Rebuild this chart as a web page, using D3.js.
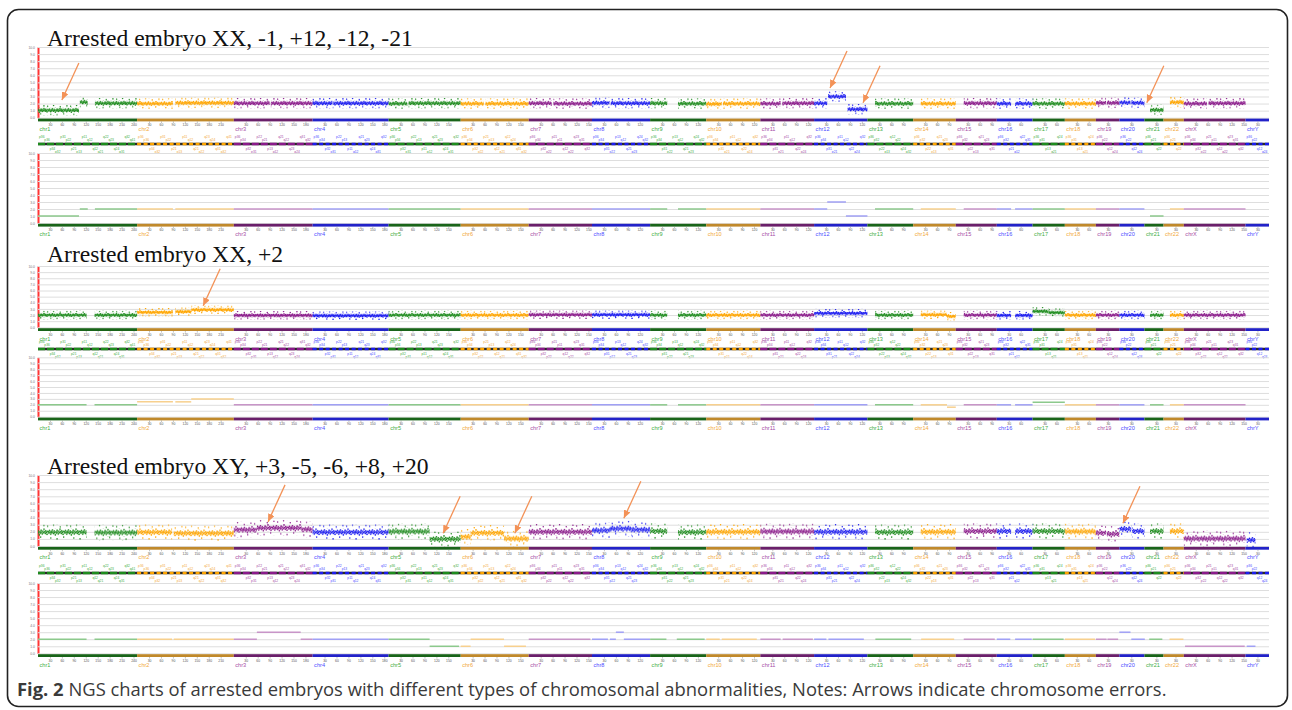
<!DOCTYPE html>
<html>
<head>
<meta charset="utf-8">
<script src="https://cdn.jsdelivr.net/npm/d3@7"></script>
<style>
    body{margin:0;background:#fff;}
    svg{display:block;font-family:"Liberation Sans",Arial,sans-serif;}
    .title{font-family:"Liberation Serif","Times New Roman",serif;font-size:23.6px;fill:#111;}
    .caption{font-family:"Open Sans",sans-serif;font-size:18.4px;fill:#3a3a3a;}
    .cn-axis .tick line{stroke:#dedede;stroke-width:1;}
    .cn-axis .tick text{font-size:3.4px;fill:#777;}
    .cn-axis path.domain{stroke:#ff3434;stroke-width:2;}
    .pos-axis path.domain{display:none;}
    .pos-axis .tick line{stroke:#888;stroke-width:0.5;}
    .pos-axis .tick text{font-size:3.4px;fill:#555;}
    .chr-label{font-size:5.6px;}
    .band-label{font-size:3.3px;}
</style>
</head>
<body>
<svg id="fig" width="1292" height="710"></svg>
<script>
// ---- data ----
const CHROMS = ["chr1","chr2","chr3","chr4","chr5","chr6","chr7","chr8","chr9","chr10","chr11","chr12",
    "chr13","chr14","chr15","chr16","chr17","chr18","chr19","chr20","chr21","chr22","chrX","chrY"];
const CHROM_MB = [249,243,198,191,181,171,159,146,141,136,135,134,115,107,103,90,81,78,59,63,48,51,155,59];
const CN_TICKS = [0,1,2,3,4,5,6,7,8,9,10];
const POS_TICKS = [30,60,90,120,150,180,210,240];
const BAND_NAMES = ["p36","p34","p32","p31","p22","p21","p13","p11","q12","q21","q22","q23","q24","q31","q32","q41"];
const TITLES = [
    "Arrested embryo XX, -1, +12, -12, -21",
    "Arrested embryo XX, +2",
    "Arrested embryo XY, +3, -5, -6, +8, +20"
];

// scatter bins: [chrom, startMb, endMb, level]
const BINS_1 = [
    ["chr1",0,103,1.05],["chr1",105,125,2.2],["chr1",143,249,2.05],
    ["chr2",0,90,2.0],["chr2",96,243,2.1],["chr3",0,90,2.05],["chr3",93,198,2.05],
    ["chr4",0,50,2.05],["chr4",52,191,2.05],["chr5",0,47,2.0],["chr5",50,181,2.05],
    ["chr6",0,58,2.0],["chr6",62,171,2.0],["chr7",0,58,2.05],["chr7",62,159,2.0],
    ["chr8",0,44,2.1],["chr8",47,146,2.05],["chr9",0,43,2.05],["chr9",70,141,2.0],
    ["chr10",0,39,1.95],["chr10",42,136,2.0],["chr11",0,51,2.0],["chr11",55,135,2.05],
    ["chr12",0,33,2.05],["chr12",35,80,3.0],["chr12",84,134,1.2],
    ["chr13",19,115,2.0],["chr14",19,107,2.0],["chr15",20,103,2.05],
    ["chr16",0,36,2.0],["chr16",46,90,2.0],["chr17",0,81,2.0],["chr18",0,78,2.0],
    ["chr19",0,26,2.1],["chr19",28,59,2.1],["chr20",0,28,2.15],["chr20",30,63,2.1],
    ["chr21",14,48,1.1],["chr22",16,51,2.2],["chrX",0,58,2.0],["chrX",62,155,2.05]
];
const BINS_2 = [
    ["chr1",0,122,2.0],["chr1",142,249,2.0],
    ["chr2",0,90,2.45],["chr2",96,136,2.55],["chr2",136,243,2.85],
    ["chr3",0,198,1.95],["chr4",0,191,1.9],["chr5",0,181,2.0],["chr6",0,171,2.0],
    ["chr7",0,159,2.05],["chr8",0,146,2.05],["chr9",0,43,2.0],["chr9",70,141,2.0],
    ["chr10",0,136,2.0],["chr11",0,135,2.0],["chr12",0,134,2.3],["chr13",19,115,2.0],
    ["chr14",19,85,2.05],["chr14",85,107,1.8],["chr15",20,103,2.0],
    ["chr16",0,36,1.95],["chr16",46,90,1.95],["chr17",0,40,2.6],["chr17",40,81,2.4],
    ["chr18",0,78,2.0],["chr19",0,59,2.0],["chr20",0,63,2.0],["chr21",14,48,2.0],
    ["chr22",16,51,2.0],["chrX",0,155,2.0]
];
const BINS_3 = [
    ["chr1",0,122,1.95],["chr1",142,249,1.9],["chr2",0,88,1.95],["chr2",92,243,1.8],
    ["chr3",0,58,2.3],["chr3",58,170,2.55],["chr3",170,198,2.35],["chr4",0,191,1.95],
    ["chr5",0,103,2.05],["chr5",103,181,1.0],
    ["chr6",0,25,1.3],["chr6",25,109,1.85],["chr6",109,171,1.05],["chr7",0,159,2.0],
    ["chr8",0,45,2.2],["chr8",45,100,2.45],["chr8",100,146,2.3],
    ["chr9",0,43,2.1],["chr9",70,141,1.95],["chr10",0,136,2.0],["chr11",0,135,2.05],
    ["chr12",0,134,2.0],["chr13",19,115,1.95],["chr14",19,107,2.0],["chr15",20,103,2.1],
    ["chr16",0,36,2.1],["chr16",46,90,2.1],["chr17",0,81,2.1],["chr18",0,78,2.05],
    ["chr19",0,26,1.85],["chr19",28,59,1.7],["chr20",0,30,2.4],["chr20",32,63,2.1],
    ["chr21",14,48,2.1],["chr22",16,51,2.1],["chrX",0,155,1.05],["chrY",3,25,0.85]
];

// copy number calls: [chrom, startMb, endMb, copies]
const CALLS_1 = [
    ["chr1",0,103,1],["chr1",105,125,2],["chr1",143,249,2],["chr2",0,90,2],["chr2",96,243,2],
    ["chr3",0,198,2],["chr4",0,191,2],["chr5",0,181,2],["chr6",0,171,2],["chr7",0,159,2],
    ["chr8",0,146,2],["chr9",0,43,2],["chr9",70,141,2],["chr10",0,136,2],["chr11",0,135,2],
    ["chr12",0,33,2],["chr12",33,80,3],["chr12",80,134,1],["chr13",19,115,2],["chr14",19,107,2],
    ["chr15",20,103,2],["chr16",0,36,2],["chr16",46,90,2],["chr17",0,81,2],["chr18",0,78,2],
    ["chr19",0,59,2],["chr20",0,63,2],["chr21",14,48,1],["chr22",16,51,2],["chrX",0,155,2]
];
const CALLS_2 = [
    ["chr1",0,122,2],["chr1",142,249,2],["chr2",0,90,2.5],["chr2",96,136,2.5],["chr2",136,243,3],
    ["chr3",0,198,2],["chr4",0,191,2],["chr5",0,181,2],["chr6",0,171,2],["chr7",0,159,2],
    ["chr8",0,146,2],["chr9",0,43,2],["chr9",70,141,2],["chr10",0,136,2],["chr11",0,135,2],
    ["chr12",0,134,2],["chr13",19,115,2],["chr14",19,85,2],["chr14",85,107,1.6],["chr15",20,103,2],
    ["chr16",0,36,2],["chr16",46,90,2],["chr17",0,81,2.45],["chr18",0,78,2],["chr19",0,59,2],
    ["chr20",0,63,2],["chr21",14,48,2],["chr22",16,51,2],["chrX",0,155,2]
];
const CALLS_3 = [
    ["chr1",0,122,2],["chr1",142,249,2],["chr2",0,88,2],["chr2",92,243,2],
    ["chr3",0,58,2],["chr3",58,168,3],["chr3",168,198,2],["chr4",0,191,2],
    ["chr5",0,103,2],["chr5",103,177,1],["chr6",0,25,1],["chr6",25,109,2],["chr6",109,164,1],
    ["chr7",0,155,2],["chr8",0,40,2],["chr8",45,60,2],["chr8",60,80,3],["chr8",80,146,2],
    ["chr9",0,41,2],["chr9",67,137,2],["chr10",0,34,2],["chr10",39,127,2],["chr11",0,51,2],
    ["chr11",56,132,2],["chr12",0,31,2],["chr12",36,125,2],["chr13",20,110,2],["chr14",20,103,2],
    ["chr15",20,98,2],["chr16",0,34,2],["chr16",46,88,2],["chr17",0,78,2],["chr18",0,76,2],
    ["chr19",0,27,2],["chr19",29,56,2],["chr20",0,28,3],["chr20",30,64,2],["chr21",12,45,2],
    ["chr22",15,50,2],["chrX",3,153,1],["chrY",3,25,1]
];

// arrows: [chrom, Mb, copy-number level of the tip]
const ARROWS_1 = [["chr1",60,2.5],["chr12",40,4.2],["chr12",123,2.1],["chr21",6,2.1]];
const ARROWS_2 = [["chr2",166,3.5]];
const ARROWS_3 = [["chr3",86,3.4],["chr5",137,1.8],["chr6",136,1.8],["chr8",80,3.9],["chr20",9,3.2]];

// ---- styles / layout ----
const X0 = 38, X1 = 1269;
const DOT_COLORS = ["#1e8c1e","#ffa500","#8b1a8b","#1c1cf0"];
const BAR_COLORS = ["#196419","#c0892b","#6a1f6a","#2222c8"];
const LABEL_COLORS = ["#3fae3f","#f2a93b","#a64ca6","#4b4bff"];
const CALL_COLORS = ["#8cc98c","#f7d08e","#c895c8","#a0a0f5"];
const ARROW_COLOR = "#f39257";
const ARROW_OFFSET = [17, -37];
// texture of a dense scatter band (positions inside one tile)
const DOT_TILE = [[0.02,0.45],[0.06,0.62],[0.09,0.30],[0.13,0.52],[0.17,0.75],[0.20,0.40],
    [0.24,0.58],[0.28,0.22],[0.31,0.49],[0.35,0.68],[0.39,0.35],[0.42,0.55],[0.46,0.85],
    [0.50,0.44],[0.53,0.61],[0.57,0.28],[0.61,0.50],[0.64,0.72],[0.68,0.38],[0.72,0.57],
    [0.75,0.12],[0.79,0.46],[0.83,0.66],[0.86,0.33],[0.90,0.53],[0.94,0.78],[0.97,0.41]];
// sparse outliers around the band
const HALO_TILE = [[0.07,0.12],[0.21,0.88],[0.33,0.05],[0.48,0.93],[0.62,0.17],[0.77,0.82],[0.91,0.08]];

const PANELS = [
    {title: TITLES[0], bins: BINS_1, calls: CALLS_1, arrows: ARROWS_1, spread: 0.75,
        titleY: 46, top: [117.7, 47], bar1: 118.6, ideo: 144, bot: [223, 153], bar2: 223.8},
    {title: TITLES[1], bins: BINS_2, calls: CALLS_2, arrows: ARROWS_2, spread: 0.7,
        titleY: 262, top: [327.3, 266], bar1: 328.2, ideo: 349, bot: [416.7, 357.3], bar2: 417.6},
    {title: TITLES[2], bins: BINS_3, calls: CALLS_3, arrows: ARROWS_3, spread: 1.1,
        titleY: 474, top: [546, 475], bar1: 546.9, ideo: 573, bot: [653.3, 583], bar2: 654.2}
];

const svg = d3.select("#fig");
const defs = svg.append("defs");

let cum = d3.cumsum(CHROM_MB);
const starts = new Map(CHROMS.map((c, i) => [c, i === 0 ? 0 : cum[i - 1]]));
const x = d3.scaleLinear().domain([0, d3.sum(CHROM_MB)]).range([X0, X1]);
const gx = (chr, mb) => x(starts.get(chr) + mb);
const cIdx = chr => CHROMS.indexOf(chr) % 4;

defs.append("marker")
    .attr("id", "arrowhead")
    .attr("markerUnits", "userSpaceOnUse")
    .attr("markerWidth", 9).attr("markerHeight", 8)
    .attr("refX", 8).attr("refY", 3.5)
    .attr("orient", "auto")
    .append("path")
        .attr("d", "M0,0 L8,3.5 L0,7 Z")
        .attr("fill", ARROW_COLOR);

function makePattern(id, color, w, h, tile, r){
    let p = defs.append("pattern")
        .attr("id", id)
        .attr("patternUnits", "userSpaceOnUse")
        .attr("width", w).attr("height", h);
    p.selectAll("circle").data(tile).join("circle")
        .attr("cx", d => d[0] * w)
        .attr("cy", d => d[1] * h)
        .attr("r", r)
        .attr("fill", color);
}

function drawCnAxis(g, y){
    let axis = d3.axisLeft(y)
        .tickValues(CN_TICKS)
        .tickFormat(d3.format(".1f"))
        .tickSize(-(X1 - X0))
        .tickSizeOuter(0)
        .tickPadding(3);
    g.append("g")
        .attr("class", "cn-axis")
        .attr("transform", `translate(${X0},0)`)
        .call(axis);
}

function drawChromBar(g, yBar){
    g.append("g").selectAll("rect").data(CHROMS).join("rect")
        .attr("x", c => gx(c, 0))
        .attr("y", yBar)
        .attr("width", (c, i) => gx(c, CHROM_MB[i]) - gx(c, 0))
        .attr("height", 2.8)
        .attr("fill", (c, i) => BAR_COLORS[i % 4]);

    // position ticks inside each chromosome
    let ticks = CHROMS.flatMap((c, i) => POS_TICKS.filter(t => t < CHROM_MB[i] - 4)
        .map(t => ({abs: starts.get(c) + t, rel: t})));
    let rel = new Map(ticks.map(t => [t.abs, t.rel]));
    let axis = d3.axisBottom(x)
        .tickValues(ticks.map(t => t.abs))
        .tickFormat(d => rel.get(d))
        .tickSize(1.6)
        .tickPadding(0.8);
    g.append("g")
        .attr("class", "pos-axis")
        .attr("transform", `translate(0,${yBar + 2.8})`)
        .call(axis);

    g.append("g").selectAll("text").data(CHROMS).join("text")
        .attr("class", "chr-label")
        .attr("x", c => gx(c, 0) + 1.5)
        .attr("y", yBar + 12.5)
        .attr("fill", (c, i) => LABEL_COLORS[i % 4])
        .text(c => c);
}

function drawIdeogram(g, yIdeo){
    g.append("line")
        .attr("x1", X0).attr("x2", X1)
        .attr("y1", yIdeo).attr("y2", yIdeo)
        .attr("stroke", "#2a2a2a").attr("stroke-width", 2.4);
    g.append("g").selectAll("line").data(CHROMS).join("line")
        .attr("x1", c => gx(c, 0))
        .attr("x2", (c, i) => gx(c, CHROM_MB[i]))
        .attr("y1", yIdeo).attr("y2", yIdeo)
        .attr("stroke", (c, i) => DOT_COLORS[i % 4])
        .attr("stroke-width", 2.4)
        .attr("stroke-dasharray", (c, i) => i % 2 ? "4 2.5" : "7 2");

    // tiny cytoband names above and below
    let rows = [-7.2, -3.8, 4.6, 8];
    let labels = CHROMS.flatMap((c, i) => {
        let x0 = gx(c, 0), w = gx(c, CHROM_MB[i]) - x0;
        let n = Math.max(2, Math.floor(w / 5.5));
        return d3.range(n).map(k => ({
            x: x0 + 1 + k * (w - 3) / n,
            row: rows[k % 4],
            name: BAND_NAMES[Math.floor(k * BAND_NAMES.length / n)],
            color: LABEL_COLORS[i % 4]
        }));
    });
    g.append("g").selectAll("text").data(labels).join("text")
        .attr("class", "band-label")
        .attr("x", d => d.x)
        .attr("y", d => yIdeo + d.row + 1)
        .attr("fill", d => d.color)
        .text(d => d.name);
}

function drawBins(g, y, bins, key, spread){
    let h = y(0) - y(spread);
    DOT_COLORS.forEach((col, i) => {
        makePattern(`dots-${key}-${i}`, col, 16, h, DOT_TILE, 0.85);
        makePattern(`halo-${key}-${i}`, col, 23, h * 2, HALO_TILE, 0.75);
    });
    let band = g.append("g").selectAll("g").data(bins).join("g");
    band.append("g")
        .attr("transform", d => `translate(0,${y(d[3]) - h})`)
        .append("rect")
            .attr("x", d => gx(d[0], d[1]))
            .attr("width", d => gx(d[0], d[2]) - gx(d[0], d[1]))
            .attr("height", h * 2)
            .attr("fill", d => `url(#halo-${key}-${cIdx(d[0])})`);
    band.append("g")
        .attr("transform", d => `translate(0,${y(d[3]) - h / 2})`)
        .append("rect")
            .attr("x", d => gx(d[0], d[1]))
            .attr("width", d => gx(d[0], d[2]) - gx(d[0], d[1]))
            .attr("height", h)
            .attr("fill", d => `url(#dots-${key}-${cIdx(d[0])})`);
}

function drawCalls(g, y, calls){
    g.append("g").selectAll("line").data(calls).join("line")
        .attr("x1", d => gx(d[0], d[1]))
        .attr("x2", d => gx(d[0], d[2]))
        .attr("y1", d => y(d[3]))
        .attr("y2", d => y(d[3]))
        .attr("stroke", d => CALL_COLORS[cIdx(d[0])])
        .attr("stroke-width", 1.5);
}

function drawArrows(g, y, arrows){
    g.append("g").selectAll("line").data(arrows).join("line")
        .attr("x1", d => gx(d[0], d[1]) + ARROW_OFFSET[0])
        .attr("y1", d => y(d[2]) + ARROW_OFFSET[1])
        .attr("x2", d => gx(d[0], d[1]))
        .attr("y2", d => y(d[2]))
        .attr("stroke", ARROW_COLOR)
        .attr("stroke-width", 1.3)
        .attr("marker-end", "url(#arrowhead)");
}

PANELS.forEach((p, k) => {
    let g = svg.append("g").attr("class", "panel");
    let yTop = d3.scaleLinear().domain([0, 10]).range(p.top);
    let yBot = d3.scaleLinear().domain([0, 10]).range(p.bot);

    drawCnAxis(g, yTop);
    drawBins(g, yTop, p.bins, k, p.spread);
    drawChromBar(g, p.bar1);
    drawIdeogram(g, p.ideo);
    drawCnAxis(g, yBot);
    drawCalls(g, yBot, p.calls);
    drawChromBar(g, p.bar2);
    drawArrows(g, yTop, p.arrows);

    g.append("text")
        .attr("class", "title")
        .attr("x", 47)
        .attr("y", p.titleY)
        .text(p.title);
});

// frame + caption
svg.append("rect")
    .attr("x", 7.5).attr("y", 9.5)
    .attr("width", 1280).attr("height", 697)
    .attr("rx", 11)
    .attr("fill", "none")
    .attr("stroke", "#222")
    .attr("stroke-width", 1.6);

let cap = svg.append("text")
    .attr("class", "caption")
    .attr("x", 17)
    .attr("y", 696);
cap.append("tspan").attr("font-weight", "bold").text("Fig. 2");
cap.append("tspan").text(" NGS charts of arrested embryos with different types of chromosomal abnormalities, Notes: Arrows indicate chromosome errors.");
</script>
</body>
</html>
